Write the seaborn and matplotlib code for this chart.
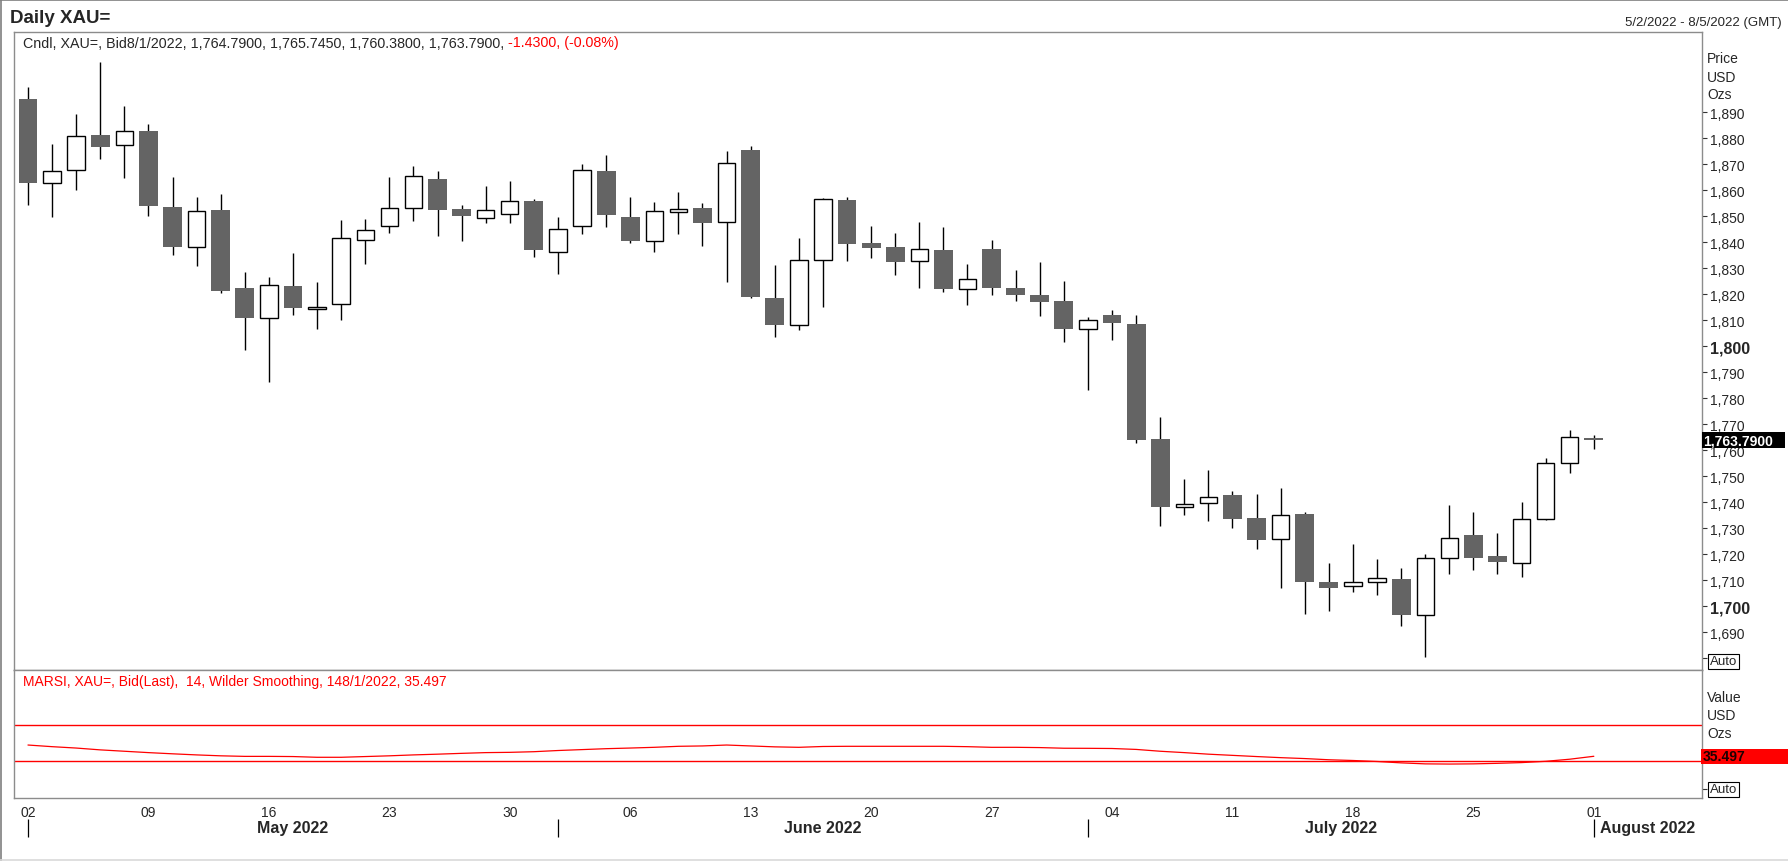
import matplotlib
matplotlib.use("Agg")
import matplotlib.pyplot as plt
from matplotlib.patches import Rectangle
from matplotlib.lines import Line2D
import numpy as np
import pandas as pd
import seaborn as sns

# 日線 XAU=  2022/5/2 ~ 2022/8/1
dates = pd.bdate_range("2022-05-02", "2022-08-01")
axis_days = pd.bdate_range("2022-05-02", "2022-08-05")

opens = [1895.1, 1862.8, 1867.7, 1881.2, 1877.2, 1882.7, 1853.5, 1838.2, 1852.4, 1822.3,
         1810.8, 1823.2, 1814.3, 1816.3, 1840.8, 1846.2, 1853.2, 1864.2, 1852.8, 1849.4,
         1850.9, 1855.8, 1836.2, 1846.2, 1867.3, 1849.6, 1840.5, 1851.6, 1853.1, 1847.8,
         1875.4, 1818.6, 1808.2, 1833.2, 1856.2, 1839.6, 1838.1, 1832.8, 1836.9, 1821.9,
         1837.3, 1822.3, 1819.6, 1817.4, 1806.5, 1812.0, 1808.6, 1764.2, 1738.1, 1739.6,
         1742.8, 1734.0, 1725.9, 1735.5, 1709.2, 1707.8, 1709.4, 1710.5, 1696.8, 1718.6,
         1727.3, 1719.2, 1716.7, 1733.6, 1755.1, 1764.79]
highs = [1899.6, 1877.7, 1889.3, 1909.2, 1892.3, 1885.4, 1865.0, 1857.3, 1858.6, 1828.5,
         1826.5, 1835.8, 1824.6, 1848.5, 1848.8, 1865.0, 1869.2, 1867.5, 1854.1, 1861.5,
         1863.7, 1856.7, 1849.6, 1870.1, 1873.6, 1857.3, 1855.4, 1859.2, 1855.0, 1875.2,
         1876.9, 1831.4, 1841.5, 1857.0, 1857.2, 1846.2, 1843.5, 1847.7, 1845.8, 1831.5,
         1840.9, 1829.4, 1832.3, 1825.2, 1811.2, 1814.0, 1812.0, 1772.8, 1749.0, 1752.4,
         1744.4, 1743.2, 1745.5, 1736.2, 1716.7, 1724.0, 1718.2, 1714.6, 1720.0, 1739.0,
         1736.2, 1728.2, 1740.0, 1756.9, 1767.8, 1765.745]
lows = [1854.1, 1849.5, 1860.2, 1871.8, 1864.8, 1850.2, 1834.9, 1831.0, 1820.4, 1798.7,
        1786.4, 1811.8, 1806.7, 1809.9, 1831.5, 1843.5, 1848.3, 1842.2, 1840.6, 1847.3,
        1847.2, 1834.2, 1827.7, 1843.2, 1846.0, 1839.6, 1836.2, 1843.2, 1838.7, 1824.6,
        1818.5, 1803.7, 1806.4, 1815.2, 1832.9, 1833.8, 1827.5, 1822.5, 1820.8, 1816.0,
        1819.5, 1817.5, 1811.5, 1801.5, 1783.3, 1802.5, 1762.7, 1731.0, 1735.2, 1732.9,
        1730.2, 1722.0, 1707.0, 1697.2, 1698.3, 1705.4, 1704.5, 1692.3, 1680.4, 1712.5,
        1714.1, 1712.5, 1711.2, 1733.1, 1751.4, 1760.38]
closes = [1862.7, 1867.5, 1880.8, 1876.4, 1882.6, 1853.8, 1838.1, 1851.9, 1821.4, 1811.0,
          1823.7, 1814.5, 1815.2, 1841.5, 1844.8, 1853.1, 1865.6, 1852.5, 1850.0, 1852.5,
          1856.0, 1836.8, 1845.1, 1867.9, 1850.6, 1840.6, 1851.8, 1852.9, 1847.2, 1870.6,
          1818.8, 1808.0, 1833.3, 1856.4, 1839.1, 1837.9, 1832.2, 1837.2, 1822.1, 1826.0,
          1822.5, 1819.5, 1816.8, 1806.7, 1809.9, 1809.1, 1764.1, 1738.3, 1739.5, 1741.9,
          1733.7, 1725.6, 1735.2, 1709.5, 1706.9, 1709.2, 1711.0, 1696.5, 1718.5, 1726.4,
          1718.7, 1716.9, 1733.7, 1755.2, 1765.2, 1763.79]
rsi = [47.8, 46.0, 44.5, 42.5, 41.0, 39.5, 38.2, 37.0, 36.0, 35.4,
       35.4, 35.2, 34.4, 34.4, 35.2, 36.0, 37.0, 37.8, 38.7, 39.5,
       39.8, 40.5, 41.8, 42.8, 43.8, 44.5, 45.3, 46.4, 46.8, 47.8,
       46.8, 45.8, 45.3, 46.2, 46.4, 46.4, 46.4, 46.4, 46.4, 46.0,
       45.3, 45.3, 45.0, 44.3, 44.2, 44.0, 43.0, 41.0, 39.5, 37.8,
       36.5, 35.2, 34.0, 33.0, 31.7, 30.9, 29.8, 28.3, 27.2, 27.0,
       27.2, 27.8, 28.6, 30.0, 32.3, 35.497]

price_ticks = list(range(1680, 1891, 10))
bold_ticks = [1700, 1800]
rsi_levels = [70, 30]
months = ["May 2022", "June 2022", "July 2022", "August 2022"]
month_starts = ["2022-05-02", "2022-06-01", "2022-07-01", "2022-08-01"]

last_price = 1763.79
last_rsi = 35.497
info_black = "Cndl, XAU=, Bid8/1/2022, 1,764.7900, 1,765.7450, 1,760.3800, 1,763.7900,"
info_red = " -1.4300, (-0.08%)"
rsi_info = "MARSI, XAU=, Bid(Last),  14, Wilder Smoothing, 148/1/2022, 35.497"

W, H = 1788, 862


def fx(px):
    return px / W


def fy(py):
    return 1 - py / H


sns.set_style("white")
plt.rcParams["font.family"] = ["Liberation Sans", "DejaVu Sans"]

df = pd.DataFrame({"date": dates, "open": opens, "high": highs, "low": lows,
                   "close": closes, "rsi": rsi})
df["i"] = np.arange(len(df))

fig = plt.figure(figsize=(W / 100, H / 100), dpi=100)
ax = fig.add_axes([fx(14), fy(671), fx(1702) - fx(14), fy(33) - fy(671)])
ax2 = fig.add_axes([fx(14), fy(799), fx(1702) - fx(14), fy(671) - fy(799)])
xlim = (-0.58, 69.49)

# ---- 上方 K 線 ----
ax.vlines(df["i"], df["low"], df["high"], color="black", lw=1.0, zorder=1)
up = df[df["close"] >= df["open"]]
dn = df[df["close"] < df["open"]]
ax.bar(up["i"], up["close"] - up["open"], bottom=up["open"], width=0.72,
       color="white", edgecolor="black", lw=1.0, zorder=2)
ax.bar(dn["i"], dn["open"] - dn["close"], bottom=dn["close"], width=0.78,
       color="#646464", lw=0, zorder=2)
ax.set_xlim(*xlim)
ax.set_ylim(1675.5, 1920.8)
ax.set_xticks([])
ax.yaxis.tick_right()
ax.set_yticks(price_ticks)
ax.set_yticklabels(["" if v == 1680 else f"{v:,}" for v in price_ticks])
ax.tick_params(axis="y", length=3.5, width=0.8, pad=2, labelsize=10, color="#333333")
for lbl, v in zip(ax.get_yticklabels(), price_ticks):
    if v in bold_ticks:
        lbl.set_fontweight("bold")
        lbl.set_fontsize(11.5)

# ---- 下方 RSI ----
sns.lineplot(x=df["i"], y=df["rsi"], ax=ax2, color="red", lw=0.9)
for lv in rsi_levels:
    ax2.axhline(lv, color="red", lw=1.0)
ax2.set_xlim(*xlim)
ax2.set_ylim(-10.1, 129.8)
ax2.set_xlabel("")
ax2.set_ylabel("")
ax2.yaxis.tick_right()
ax2.set_yticks([0])
ax2.set_yticklabels([""])
ax2.set_xticks(np.arange(len(axis_days)))
ax2.set_xticklabels([d.strftime("%d") if d.weekday() == 0 else "" for d in axis_days])
ax2.tick_params(axis="x", length=3, width=0.8, pad=2, labelsize=10, color="#333333")
ax2.tick_params(axis="y", length=3.5, width=0.8, color="#333333")

for a in (ax, ax2):
    for s in a.spines.values():
        s.set_color("#8c8c8c")
        s.set_linewidth(1.0)

# 月份分隔線與標籤
trans = ax2.get_xaxis_transform()
starts = [axis_days.get_loc(pd.Timestamp(m)) for m in month_starts]
ax2.vlines(starts, -0.305, -0.164, transform=trans, color="black", lw=0.9, clip_on=False)
ends = starts[1:] + [xlim[1]]
for name, s, e in zip(months, starts, ends):
    ax2.text((s + e) / 2, -0.234, name, transform=trans, ha="center", va="center",
             fontsize=11.5, fontweight="bold")

# ---- 文字 ----
fig.text(fx(10), fy(23.3), "Daily XAU=", fontsize=13.5, fontweight="bold", va="baseline")
fig.text(fx(1782), fy(25.7), "5/2/2022 - 8/5/2022 (GMT)", fontsize=9.5, ha="right",
         va="baseline")

renderer = fig.canvas.get_renderer()
t1 = fig.text(fx(23), fy(43.5), info_black, fontsize=10.3, va="center")
bb = t1.get_window_extent(renderer)
fig.text(bb.x1 / W, fy(43.5), info_red, fontsize=10.3, va="center", color="red")
fig.text(fx(23), fy(682), rsi_info, fontsize=10, va="center", color="red")

for lab, yb in [("Price", 63.3), ("USD", 81.7), ("Ozs", 99.3),
                ("Value", 701.7), ("USD", 720), ("Ozs", 737.7)]:
    fig.text(fx(1707), fy(yb), lab, fontsize=10, va="baseline")

# Auto 按鈕
for y0 in (655, 783):
    fig.add_artist(Rectangle((fx(1708), fy(y0 + 15)), fx(31), 15 / H, transform=fig.transFigure,
                             fc="white", ec="black", lw=0.8, zorder=5))
    fig.text(fx(1723.5), fy(y0 + 7.5), "Auto", fontsize=9.5, ha="center", va="center", zorder=6)

# 最新價格 / RSI 標籤
py = H - ax.transData.transform((0, last_price))[1]
fig.add_artist(Rectangle((fx(1702), fy(py + 8)), fx(83), 16 / H, transform=fig.transFigure,
                         fc="black", ec="none", zorder=5))
fig.text(fx(1703), fy(py), "1,763.7900", color="white", fontsize=10, fontweight="bold",
         va="center", zorder=6)
ry = H - ax2.transData.transform((0, last_rsi))[1]
fig.add_artist(Rectangle((fx(1701), fy(ry + 7.5)), fx(87), 15 / H, transform=fig.transFigure,
                         fc="red", ec="none", zorder=5))
fig.text(fx(1703), fy(ry), "35.497", color="#200000", fontsize=10, fontweight="bold",
         va="center", zorder=6)

# 外框
fig.add_artist(Line2D([0, 1], [fy(0.8), fy(0.8)], transform=fig.transFigure, color="#7f7f7f", lw=1.2))
fig.add_artist(Line2D([fx(0.8), fx(0.8)], [0, 1], transform=fig.transFigure, color="#7f7f7f", lw=1.2))
fig.add_artist(Line2D([0, 1], [fy(860.5), fy(860.5)], transform=fig.transFigure, color="#d9d9d9", lw=1.2))

fig.savefig("out.png", dpi=100)
